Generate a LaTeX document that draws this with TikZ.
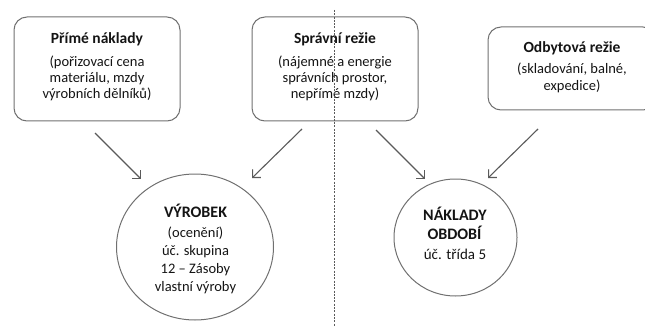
\documentclass[tikz,border=0pt]{standalone}
\usepackage{fontspec}
\setmainfont{Carlito}
\usetikzlibrary{arrows.meta,shapes.geometric}
\definecolor{edge}{HTML}{707070}
\definecolor{arrc}{HTML}{5A5A5A}
\definecolor{txt}{HTML}{141414}
\tikzset{
  box/.style={draw=edge,line width=1pt,rounded corners=13pt,inner sep=0pt},
  boxtext/.style={align=center,text=txt,font=\fontsize{14.5}{16}\selectfont,inner sep=0pt},
  oval/.style={draw=edge,line width=1pt,ellipse,inner sep=0pt},
  arr/.style={draw=arrc,line width=1.1pt,-{Straight Barb[length=5.8pt,width=11.6pt,line width=1.1pt]}},
  divider/.style={draw=arrc,line width=0.8pt,dash pattern=on 2pt off 1.3pt}
}
\begin{document}
\begin{tikzpicture}[x=1pt,y=-1pt]
\useasboundingbox (0,0) rectangle (645,326);
\clip (0,0) rectangle (645,326);
% boxes
\node[box,minimum width=166pt,minimum height=104pt] (b1) at (97,69) {};
\node[box,minimum width=166pt,minimum height=104pt] (b2) at (335,69) {};
\node[box,minimum width=168pt,minimum height=83pt] (b3) at (572,68.5) {};
\node[boxtext] (t1) at (97,67) {\textbf{\fontsize{15.5}{16}\selectfont Přímé náklady}\\[7pt](pořizovací cena\\materiálu, mzdy\\výrobních dělníků)};
\node[boxtext] (t2) at (335,67) {\textbf{\fontsize{15.5}{16}\selectfont Správní režie}\\[7pt](nájemné a energie\\správních prostor,\\nepřímé mzdy)};
\node[boxtext,font=\fontsize{14.5}{17}\selectfont] (t3) at (572,67.5) {\textbf{\fontsize{15.5}{17}\selectfont Odbytová režie}\\[4pt](skladování, balné,\\expedice)};
% ellipses
\node[oval,minimum width=157pt,minimum height=146pt] (v) at (195,247) {};
\node[oval,minimum width=123pt,minimum height=117pt] (n) at (455.5,237.5) {};
\node[boxtext,font=\fontsize{14.5}{18}\selectfont] (vt) at (195.5,249) {\textbf{\fontsize{16}{18}\selectfont VÝROBEK}\\[2pt](ocenění)\\úč. skupina\\12 – Zásoby\\vlastní výroby};
\node[boxtext,font=\fontsize{15}{19.5}\selectfont] (nt) at (455,233) {\textbf{\fontsize{16}{20}\selectfont NÁKLADY}\\\textbf{\fontsize{16}{20}\selectfont OBDOBÍ}\\úč. třída 5};
% arrow ends
\coordinate (a1s) at (95,133);  \coordinate (a1e) at (141,179);
\coordinate (a2s) at (302,129); \coordinate (a2e) at (252,178);
\coordinate (a3s) at (376,130); \coordinate (a3e) at (425,179);
\coordinate (a4s) at (538,129); \coordinate (a4e) at (488,178);
\draw[arr] (a1s) -- (a1e);
\draw[arr] (a2s) -- (a2e);
\draw[arr] (a3s) -- (a3e);
\draw[arr] (a4s) -- (a4e);
% divider
\coordinate (dtop) at (334,10); \coordinate (dbot) at (334,326);
\draw[divider] (dtop) -- (dbot);
\end{tikzpicture}
\end{document}
